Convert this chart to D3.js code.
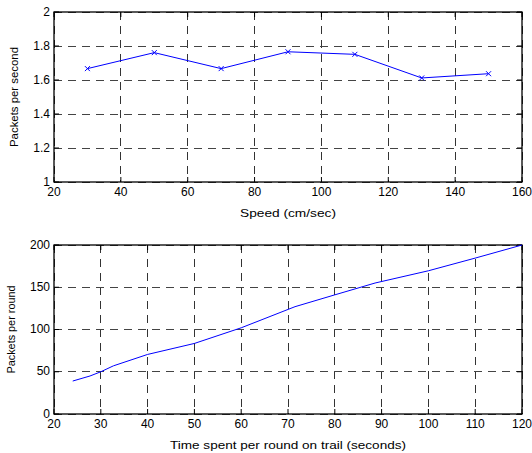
<!DOCTYPE html>
<html>
<head>
<meta charset="utf-8">
<script src="https://cdn.jsdelivr.net/npm/d3@7"></script>
<style>
  body { margin: 0; background: #fff; }
  svg text { font-family: "Liberation Sans", Arial, sans-serif; fill: #000; }
</style>
</head>
<body>
<svg id="chart" width="532" height="453"></svg>
<script>
// top plot: packets per second vs speed
var speed = [30, 50, 70, 90, 110, 130, 150];
var packetsPerSecond = [1.667, 1.761, 1.667, 1.766, 1.751, 1.612, 1.637];
var speedTicks = [20, 40, 60, 80, 100, 120, 140, 160];
var ppsTicks = [1, 1.2, 1.4, 1.6, 1.8, 2];

// bottom plot: packets per round vs time per round
var roundTime = [24, 27.7, 30, 32.7, 40, 50, 60, 71.5, 80, 88.6, 100, 110, 120];
var packetsPerRound = [39, 45, 50, 57, 70.5, 83.5, 102, 127, 141, 155, 169.5, 184.5, 200];
var timeTicks = [20, 30, 40, 50, 60, 70, 80, 90, 100, 110, 120];
var pprTicks = [0, 50, 100, 150, 200];

var svg = d3.select("#chart");

function panel(opt) {
	var x = d3.scaleLinear().domain(opt.xDomain).range([opt.left, opt.right]);
	var y = d3.scaleLinear().domain(opt.yDomain).range([opt.bottom, opt.top]);
	var g = svg.append("g");

	// dashed grid
	g.selectAll("line.vgrid").data(opt.xTicks).enter().append("line")
		.attr("x1", function(d) { return x(d); }).attr("x2", function(d) { return x(d); })
		.attr("y1", opt.top).attr("y2", opt.bottom)
		.attr("stroke", "#333").attr("stroke-width", 1)
		.attr("stroke-dasharray", "8,6").attr("shape-rendering", "crispEdges");
	g.selectAll("line.hgrid").data(opt.yTicks).enter().append("line")
		.attr("y1", function(d) { return y(d); }).attr("y2", function(d) { return y(d); })
		.attr("x1", opt.left).attr("x2", opt.right)
		.attr("stroke", "#444").attr("stroke-width", 1)
		.attr("stroke-dasharray", "8,6").attr("shape-rendering", "crispEdges");

	// inner ticks (matlab style) on all four sides
	var tl = 5;
	opt.xTicks.forEach(function(d) {
		g.append("line").attr("x1", x(d)).attr("x2", x(d)).attr("y1", opt.bottom).attr("y2", opt.bottom - tl).attr("stroke", "#000");
		g.append("line").attr("x1", x(d)).attr("x2", x(d)).attr("y1", opt.top).attr("y2", opt.top + tl).attr("stroke", "#000");
	});
	opt.yTicks.forEach(function(d) {
		g.append("line").attr("y1", y(d)).attr("y2", y(d)).attr("x1", opt.left).attr("x2", opt.left + tl).attr("stroke", "#000");
		g.append("line").attr("y1", y(d)).attr("y2", y(d)).attr("x1", opt.right).attr("x2", opt.right - tl).attr("stroke", "#000");
	});

	// frame
	g.append("rect")
		.attr("x", opt.left).attr("y", opt.top)
		.attr("width", opt.right - opt.left).attr("height", opt.bottom - opt.top)
		.attr("fill", "none").attr("stroke", "#000").attr("stroke-width", 1.3);

	// tick labels
	g.selectAll("text.xt").data(opt.xTicks).enter().append("text")
		.attr("x", function(d) { return x(d); })
		.attr("y", opt.bottom + 14)
		.attr("text-anchor", "middle").attr("font-size", 12)
		.text(function(d) { return d; });
	g.selectAll("text.yt").data(opt.yTicks).enter().append("text")
		.attr("x", opt.left - 4)
		.attr("y", function(d) { return y(d) + 3.5; })
		.attr("text-anchor", "end").attr("font-size", 12)
		.text(function(d) { return opt.yFormat(d); });

	// axis labels (stretched to the width seen in the picture)
	g.append("text")
		.attr("x", (opt.left + opt.right) / 2).attr("y", opt.xLabelY)
		.attr("text-anchor", "middle").attr("font-size", 11.5)
		.attr("textLength", opt.xLabelLen).attr("lengthAdjust", "spacingAndGlyphs")
		.text(opt.xLabel);
	g.append("text")
		.attr("transform", "translate(" + opt.yLabelX + "," + ((opt.top + opt.bottom) / 2) + ") rotate(-90)")
		.attr("text-anchor", "middle").attr("font-size", 10.5)
		.attr("textLength", opt.yLabelLen).attr("lengthAdjust", "spacingAndGlyphs")
		.text(opt.yLabel);

	// data line
	var line = d3.line()
		.x(function(d) { return x(d[0]); })
		.y(function(d) { return y(d[1]); });
	var pts = d3.zip(opt.xs, opt.ys);
	g.append("path").datum(pts)
		.attr("d", line)
		.attr("fill", "none").attr("stroke", "#0000ff").attr("stroke-width", 1);

	if (opt.markers) {
		var s = 2.5;
		g.selectAll("path.mk").data(pts).enter().append("path")
			.attr("d", function(d) {
				var cx = x(d[0]), cy = y(d[1]);
				return "M" + (cx - s) + "," + (cy - s) + "L" + (cx + s) + "," + (cy + s) +
					"M" + (cx - s) + "," + (cy + s) + "L" + (cx + s) + "," + (cy - s);
			})
			.attr("stroke", "#0000ff").attr("stroke-width", 1).attr("fill", "none");
	}
}

panel({
	left: 54, right: 522, top: 12, bottom: 182,
	xDomain: [20, 160], yDomain: [1, 2],
	xTicks: speedTicks, yTicks: ppsTicks,
	yFormat: function(d) { return d === 1 || d === 2 ? d : d.toFixed(1); },
	xs: speed, ys: packetsPerSecond, markers: true,
	xLabel: "Speed (cm/sec)", xLabelY: 217, xLabelLen: 96,
	yLabel: "Packets per second", yLabelX: 18, yLabelLen: 100
});

panel({
	left: 54, right: 522, top: 245, bottom: 414,
	xDomain: [20, 120], yDomain: [0, 200],
	xTicks: timeTicks, yTicks: pprTicks,
	yFormat: function(d) { return d; },
	xs: roundTime, ys: packetsPerRound, markers: false,
	xLabel: "Time spent per round on trail (seconds)", xLabelY: 449, xLabelLen: 236,
	yLabel: "Packets per round", yLabelX: 15, yLabelLen: 88
});
</script>
</body>
</html>
